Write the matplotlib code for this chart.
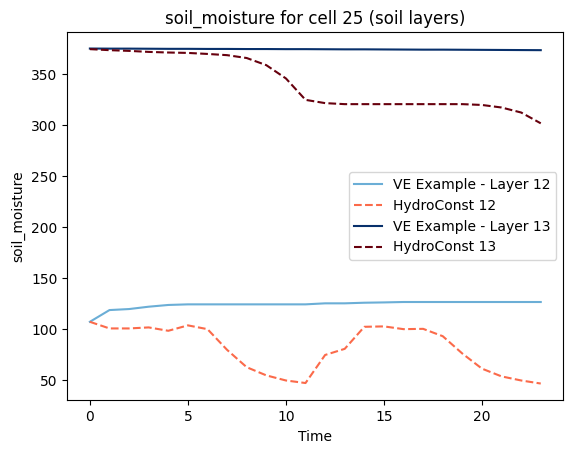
import matplotlib
matplotlib.use("Agg")
import matplotlib.pyplot as plt
import numpy as np

# time steps
time = np.arange(24)

# layer 12
ve_layer12 = [107.5, 119, 120, 122.3, 124, 124.6, 124.6, 124.6, 124.6, 124.6, 124.6, 124.6,
              125.6, 125.6, 126.2, 126.5, 126.9, 126.9, 126.9, 126.9, 126.9, 126.9, 126.9, 126.9]
hydro_12 = [107.5, 101, 101, 102, 98.7, 104, 100.3, 80, 63, 55, 50, 47.5,
            75, 81, 102.6, 103, 100.3, 100.6, 93.4, 76.4, 61.6, 54, 50, 47]

# layer 13
ve_layer13 = [375.3, 375.2, 375.2, 375.1, 375.0, 375.0, 374.9, 374.9, 374.8, 374.8, 374.7, 374.7,
              374.6, 374.5, 374.5, 374.4, 374.3, 374.2, 374.2, 374.1, 374.0, 373.9, 373.8, 373.7]
hydro_13 = [374.7, 373.7, 373, 372, 371.4, 371, 370, 368.8, 366, 359, 346, 325,
            321.8, 320.8, 320.8, 320.8, 320.8, 320.8, 320.8, 320.8, 320, 317.5, 312.6, 302]

fig = plt.figure(figsize=(5.72, 4.54), dpi=100)
ax = fig.add_axes([0.1177, 0.1183, 0.8671, 0.8117])

ax.plot(time, ve_layer12, color="#6baed6", label="VE Example - Layer 12")
ax.plot(time, hydro_12, color="#fb6a4a", linestyle="--", label="HydroConst 12")
ax.plot(time, ve_layer13, color="#08306b", label="VE Example - Layer 13")
ax.plot(time, hydro_13, color="#67000d", linestyle="--", label="HydroConst 13")

ax.set_title("soil_moisture for cell 25 (soil layers)")
ax.set_xlabel("Time")
ax.set_ylabel("soil_moisture")
ax.legend()

fig.savefig("out.png", dpi=100)
